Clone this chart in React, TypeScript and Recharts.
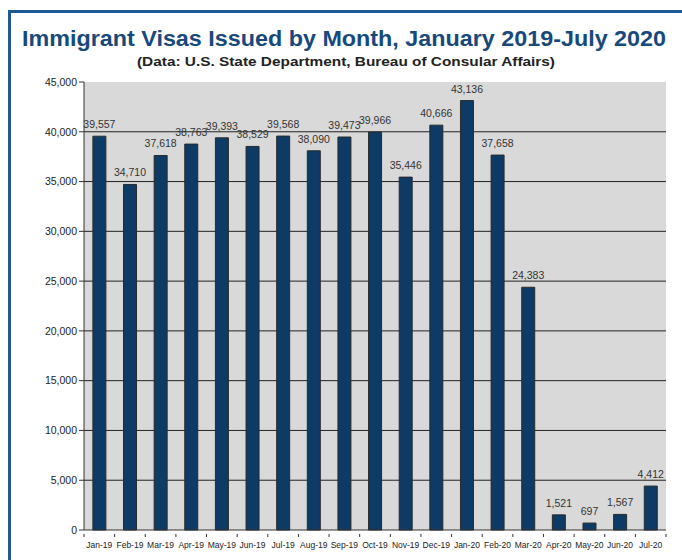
import { BarChart, Bar, XAxis, YAxis, CartesianGrid, LabelList } from "recharts";

const months = [
  "Jan-19", "Feb-19", "Mar-19", "Apr-19", "May-19", "Jun-19", "Jul-19", "Aug-19", "Sep-19", "Oct-19",
  "Nov-19", "Dec-19", "Jan-20", "Feb-20", "Mar-20", "Apr-20", "May-20", "Jun-20", "Jul-20",
];
const visas = [
  39557, 34710, 37618, 38763, 39393, 38529, 39568, 38090, 39473, 39966,
  35446, 40666, 43136, 37658, 24383, 1521, 697, 1567, 4412,
];
const yTicks = [0, 5000, 10000, 15000, 20000, 25000, 30000, 35000, 40000, 45000];
const gridLines = [5000, 10000, 15000, 20000, 25000, 30000, 35000, 40000];

const data = months.map((m, i) => ({ month: m, value: visas[i] }));

const FONT = "'Liberation Sans', Arial, sans-serif";
const fmt = (v: number) => v.toLocaleString("en-US");

// x ticks sit between the categories, like Excel
const MonthTick = (props: any) => {
  const { x, y, payload, index } = props;
  const half = payload.offset ?? 0;
  return (
    <g>
      <line x1={x - half} y1={y - 4} x2={x - half} y2={y - 1} stroke="#333" strokeWidth={1} />
      {index === months.length - 1 && (
        <line x1={x + half} y1={y - 4} x2={x + half} y2={y - 1} stroke="#333" strokeWidth={1} />
      )}
      <text x={x} y={y + 10} textAnchor="middle" fontSize={8.5} fill="#222" fontFamily={FONT}>
        {payload.value}
      </text>
    </g>
  );
};

export default function App() {
  return (
    <div style={{ position: "absolute", left: 0, top: 0, width: 682, height: 560, background: "#fff", overflow: "hidden" }}>
      <div
        style={{
          position: "absolute",
          left: 8,
          top: 10,
          width: 700,
          height: 600,
          borderLeft: "3px solid #1f5a96",
          borderTop: "3px solid #1f5a96",
        }}
      />
      <svg width={682} height={90} style={{ position: "absolute", left: 0, top: 0 }}>
        <text
          x={344}
          y={45.5}
          textAnchor="middle"
          fontSize={22}
          fontWeight="bold"
          fill="#17497c"
          fontFamily={FONT}
          textLength={644}
          lengthAdjust="spacingAndGlyphs"
        >
          Immigrant Visas Issued by Month, January 2019-July 2020
        </text>
        <text
          x={346}
          y={66}
          textAnchor="middle"
          fontSize={12.5}
          fontWeight="bold"
          fill="#222"
          fontFamily={FONT}
          textLength={418}
          lengthAdjust="spacingAndGlyphs"
        >
          (Data: U.S. State Department, Bureau of Consular Affairs)
        </text>
      </svg>
      <div style={{ position: "absolute", left: 0, top: 0 }}>
        <BarChart
          width={682}
          height={560}
          data={data}
          margin={{ top: 82, right: 16, bottom: 10, left: 24 }}
          barCategoryGap="29%"
        >
          <CartesianGrid
            vertical={false}
            horizontal
            stroke="#222"
            fill="#d9d9d9"
            horizontalValues={gridLines}
          />
          <XAxis
            dataKey="month"
            interval={0}
            tickLine={false}
            axisLine={{ stroke: "#333" }}
            tick={<MonthTick />}
            height={20}
          />
          <YAxis
            domain={[0, 45000]}
            ticks={yTicks}
            tickFormatter={fmt}
            width={60}
            axisLine={{ stroke: "#333" }}
            tickLine={{ stroke: "#333" }}
            tickSize={5}
            tick={{ fontSize: 10.5, fill: "#222", fontFamily: FONT }}
          />
          <YAxis
            yAxisId="right"
            orientation="right"
            domain={[0, 45000]}
            tick={false}
            tickLine={false}
            width={0}
            axisLine={{ stroke: "#a8a8a8" }}
          />
          <XAxis
            xAxisId="top"
            orientation="top"
            dataKey="month"
            tick={false}
            tickLine={false}
            height={0}
            axisLine={{ stroke: "#a8a8a8" }}
          />
          <Bar dataKey="value" fill="#0d3b66" stroke="#2a2a2a" strokeWidth={1} isAnimationActive={false}>
            <LabelList
              dataKey="value"
              position="top"
              offset={8}
              formatter={(v: any) => fmt(Number(v))}
              style={{ fontSize: 10.5, fill: "#333", fontFamily: FONT }}
            />
          </Bar>
        </BarChart>
      </div>
    </div>
  );
}
